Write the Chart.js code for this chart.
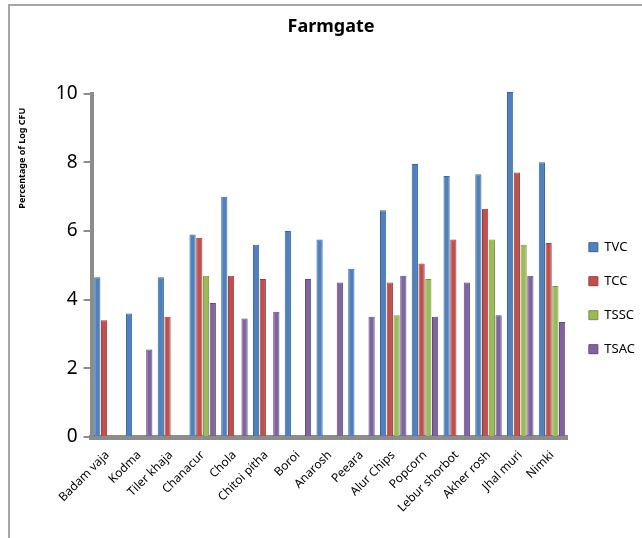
<!DOCTYPE html>
<html>
<head>
<meta charset="utf-8">
<title>Farmgate</title>
<script src="https://cdn.jsdelivr.net/npm/chart.js@4.4.1/dist/chart.umd.min.js"></script>
<style>
    body { margin: 0; background: #fff; }
    #frame {
        position: absolute;
        left: 8px;
        top: 4px;
        width: 700px;
        height: 600px;
        border-top: 2px solid #a6a6a6;
        border-left: 2px solid #a6a6a6;
    }
    #wrap { position: absolute; left: 0; top: 0; width: 642px; height: 538px; }
</style>
</head>
<body>
<div id="frame"></div>
<div id="wrap"><canvas id="farmChart" width="642" height="538"></canvas></div>
<script>
// samples (x axis)
var categories = ["Badam vaja", "Kodma", "Tiler khaja", "Chanacur", "Chola", "Chitoi pitha", "Boroi",
    "Anarosh", "Peeara", "Alur Chips", "Popcorn", "Lebur shorbot", "Akher rosh", "Jhal muri", "Nimki"];

// counts
var tvc  = [4.65, 3.6, 4.65, 5.9, 7.0, 5.6, 6.0, 5.75, 4.9, 6.6, 7.95, 7.6, 7.65, 10.05, 8.0];
var tcc  = [3.4, 0, 3.5, 5.8, 4.7, 4.6, 0, 0, 0, 4.5, 5.05, 5.75, 6.65, 7.7, 5.65];
var tssc = [0, 0, 0, 4.7, 0, 0, 0, 0, 0, 3.55, 4.6, 0, 5.75, 5.6, 4.4];
var tsac = [0, 2.55, 0, 3.9, 3.45, 3.65, 4.6, 4.5, 3.5, 4.7, 3.5, 4.5, 3.55, 4.7, 3.35];

var yTicks = [0, 2, 4, 6, 8, 10];

var font = "'Noto Sans', 'Liberation Sans', sans-serif";

function series(label, data, fill, edge) {
    return {
        label: label,
        data: data,
        backgroundColor: fill,
        borderColor: edge,
        borderWidth: 1,
        clip: false,
        categoryPercentage: 0.85,
        barPercentage: 0.92
    };
}

var ctx = document.getElementById("farmChart").getContext('2d');
var farmChart = new Chart(ctx, {
    type: 'bar',
    data: {
        labels: categories,
        datasets: [
            series("TVC", tvc, "#4f81bd", "#3a6597"),
            series("TCC", tcc, "#c0504d", "#963c3a"),
            series("TSSC", tssc, "#9bbb59", "#76923c"),
            series("TSAC", tsac, "#8064a2", "#5f4a7a")
        ]
    },
    options: {
        responsive: false,
        animation: false,
        layout: {
            padding: { left: 17, right: -3, top: 10, bottom: 20 }
        },
        plugins: {
            title: {
                display: true,
                text: "Farmgate",
                color: "#000",
                font: { family: font, size: 18, weight: 'bold' },
                padding: { top: 6, bottom: 56 }
            },
            legend: {
                position: 'right',
                title: {
                    display: true,
                    text: " ",
                    font: { family: font, size: 12 },
                    padding: { top: 27, bottom: 27 }
                },
                labels: {
                    boxWidth: 9,
                    boxHeight: 9,
                    padding: 21,
                    color: "#000",
                    font: { family: font, size: 13 }
                }
            },
            tooltip: { enabled: false }
        },
        scales: {
            x: {
                grid: { display: false },
                border: { color: "#8c8c8c", width: 5 },
                ticks: {
                    color: "#000",
                    maxRotation: 45,
                    minRotation: 45,
                    autoSkip: false,
                    font: { family: font, size: 12 }
                }
            },
            y: {
                min: 0,
                max: 10,
                afterBuildTicks: function (axis) {
                    axis.ticks = yTicks.map(function (v) { return { value: v }; });
                },
                grid: {
                    drawOnChartArea: false,
                    color: "#8c8c8c",
                    lineWidth: 2,
                    tickLength: 8
                },
                border: { color: "#8c8c8c", width: 4 },
                ticks: {
                    color: "#000",
                    padding: 6,
                    font: { family: font, size: 19 }
                },
                title: {
                    display: true,
                    // trailing spaces push the rotated title a little below the top
                    text: "Percentage of Log CFU      ",
                    align: 'end',
                    color: "#000",
                    font: { family: font, size: 9, weight: 'bold' },
                    padding: { top: 0, bottom: 22 }
                }
            }
        }
    }
});
</script>
</body>
</html>
